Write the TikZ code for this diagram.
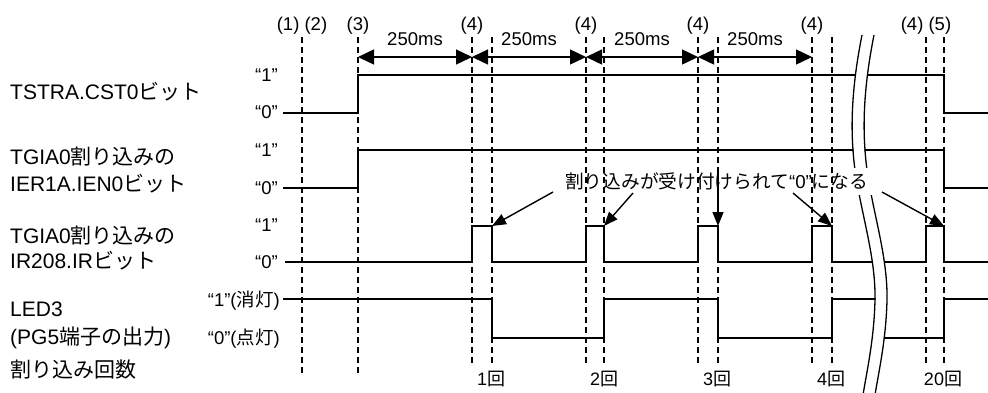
\documentclass[tikz,border=0pt]{standalone}
\usepackage{fontspec}
\setmainfont{Liberation Sans}
\newfontfamily\jp{Noto Sans CJK JP}
\usetikzlibrary{arrows.meta}
\tikzset{
  sig/.style={line width=1.6pt, line join=miter},
  vline/.style={line width=1.2pt, dash pattern=on 6pt off 4pt},
  dimarr/.style={line width=1.4pt, {Triangle[length=16pt,width=15pt]}-{Triangle[length=16pt,width=15pt]}},
  note/.style={line width=1.4pt, -{Triangle[length=14pt,width=11pt]}},
  brk/.style={line width=1.3pt},
  lbl/.style={font=\fontsize{21}{24}\selectfont, anchor=base west, inner sep=0},
  lvl/.style={font=\fontsize{18.5}{22}\selectfont, anchor=base east, inner sep=0},
  tl/.style={font=\fontsize{18.5}{22}\selectfont, anchor=base, inner sep=0},
  cnt/.style={font=\fontsize{18}{22}\selectfont, anchor=base, inner sep=0},
}
\begin{document}
\begin{tikzpicture}[x=1pt,y=-1pt]
\useasboundingbox (0,0) rectangle (988,392);

% left labels
\node[lbl] (l1) at (10,99.5) {TSTRA.CST0{\jp ビット}};
\node[lbl] (l2) at (10,164.5) {TGIA0{\jp 割り込みの}};
\node[lbl] (l3) at (10,191.5) {IER1A.IEN0{\jp ビット}};
\node[lbl] (l4) at (10,243.5) {TGIA0{\jp 割り込みの}};
\node[lbl] (l5) at (10,268.5) {IR208.IR{\jp ビット}};
\node[lbl] (l6) at (10,316.5) {LED3};
\node[lbl] (l7) at (10,344.5) {(PG5{\jp 端子の出力})};
\node[lbl] (l8) at (10,377.5) {{\jp 割り込み回数}};

% level labels
\node[lvl] (v1) at (278,81.6) {“1”};
\node[lvl] (v2) at (278,118.6) {“0”};
\node[lvl] (v3) at (278,156.6) {“1”};
\node[lvl] (v4) at (278,194.6) {“0”};
\node[lvl] (v5) at (278,231.6) {“1”};
\node[lvl] (v6) at (278,268.6) {“0”};
\node[lvl] (v7) at (280,306.6) {“1”({\jp 消灯})};
\node[lvl] (v8) at (280,344.6) {“0”({\jp 点灯})};

% top labels
\node[tl] (t1) at (302,30) {(1) (2)};
\node[tl] (t3) at (358,30) {(3)};
\node[tl] (t4a) at (472,30) {(4)};
\node[tl] (t4b) at (586,30) {(4)};
\node[tl] (t4c) at (698,30) {(4)};
\node[tl] (t4d) at (812,30) {(4)};
\node[tl] (t45) at (926,30) {(4) (5)};

% 250ms dimension arrows
\coordinate (d0) at (358,57);
\coordinate (d1) at (472,57);
\coordinate (d2) at (586,57);
\coordinate (d3) at (698,57);
\coordinate (d4) at (812,57);
\draw[dimarr] (d0) -- (d1);
\draw[dimarr] (d1) -- (d2);
\draw[dimarr] (d2) -- (d3);
\draw[dimarr] (d3) -- (d4);
\node[tl] (m1) at (415,45.6) {250ms};
\node[tl] (m2) at (529,45.6) {250ms};
\node[tl] (m3) at (642,45.6) {250ms};
\node[tl] (m4) at (755,45.6) {250ms};

% signals
\draw[sig] (283,113) -| (358,75) -| (944,113) -- (988,113);
\draw[sig] (283,188) -| (358,150) -| (944,188) -- (988,188);
\draw[sig] (285,262) -| (472,226) -| (492,262) -| (586,226) -| (604,262)
  -| (698,226) -| (718,262) -| (812,226) -| (832,262) -| (926,226) -| (944,262) -- (988,262);
\draw[sig] (283,299) -| (492,338) -| (604,299) -| (718,338) -| (832,299)
  -| (881,338) -| (944,299) -- (988,299);

% break mark
\draw[white, line width=11pt] (868,35) .. controls (861,70) and (856,110) .. (859,150)
  .. controls (862,200) and (882,250) .. (881,300) .. controls (880,340) and (873,370) .. (869,395);
\draw[brk] (862,35) .. controls (855,70) and (850,110) .. (853,150)
  .. controls (856,200) and (876,250) .. (875,300) .. controls (874,340) and (867,370) .. (863,395);
\draw[brk] (874,35) .. controls (867,70) and (862,110) .. (865,150)
  .. controls (868,200) and (888,250) .. (887,300) .. controls (886,340) and (879,370) .. (875,395);
\fill[white] (846,168) rectangle (893,195);

% dashed time lines
\foreach \x in {302,358} \draw[vline] (\x,37) -- (\x,375);
\foreach \x in {472,492,586,604,698,718,812,832,926,944} \draw[vline] (\x,37) -- (\x,363);

% counts
\node[cnt] (c1) at (491,385.6) {1{\jp 回}};
\node[cnt] (c2) at (604,385.6) {2{\jp 回}};
\node[cnt] (c3) at (717,385.6) {3{\jp 回}};
\node[cnt] (c4) at (831,385.6) {4{\jp 回}};
\node[cnt] (c20) at (943,385.6) {20{\jp 回}};

% annotation
\node[font=\fontsize{18.7}{22}\selectfont, anchor=base west, inner sep=0] (note) at (565,188)
  {{\jp 割り込みが受け付けられて}“0”{\jp になる}};
\coordinate (f1) at (492,226);
\coordinate (f2) at (604,226);
\coordinate (f3) at (718,226);
\coordinate (f4) at (832,226);
\coordinate (f5) at (944,226);
\coordinate (s1) at (553,192);
\coordinate (s2) at (633,193);
\coordinate (s3) at (718,167);
\coordinate (s4) at (793,193);
\coordinate (s5) at (882,192);
\draw[note] (s1) -- (f1);
\draw[note] (s2) -- (f2);
\draw[note] (s3) -- (f3);
\draw[note] (s4) -- (f4);
\draw[note] (s5) -- (f5);
\end{tikzpicture}
\end{document}
